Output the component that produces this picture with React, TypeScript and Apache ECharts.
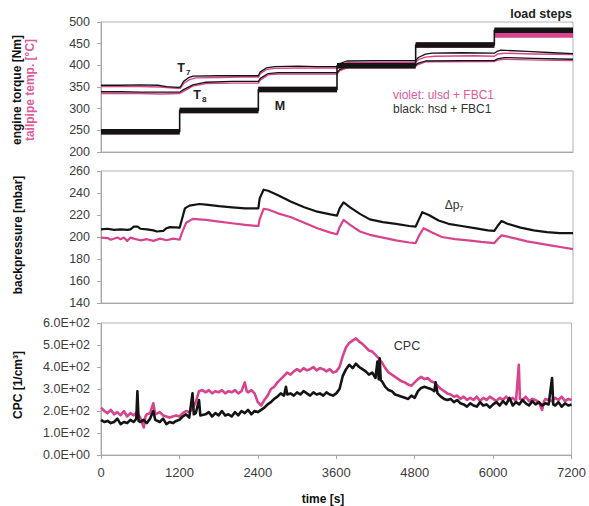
import React, { useEffect, useRef } from "react";
import * as echarts from "echarts";

type P = [number, number];

const PINK = "#d8438d";
const PINK_TEXT = "#de5a9c";
const BLACK = "#141414";
const AXIS_GRAY = "#a8a8a8";
const LABEL = "#3c3c3c";
const FONT = "'Liberation Sans', Arial, sans-serif";

// time axis
const TIME_MIN = 0;
const TIME_MAX = 7200;
const TIME_STEP = 1200;

// top panel: torque M load steps (start time of each step and its level)
const stepStarts = [0, 1200, 2400, 3600, 4800, 6000];
const torqueBlackLevels = [247, 296, 344, 399, 447, 481];
const torquePinkLevels = [247, 296, 344, 399, 447, 470];

// temperatures T7, T8
const t7Black: P[] = [
  [0, 354], [300, 354], [600, 355], [870, 354], [1000, 351], [1170, 349], [1210, 350],
  [1260, 363], [1330, 371], [1400, 375], [1800, 376], [2100, 376], [2400, 376],
  [2430, 385], [2520, 394], [2650, 397], [3000, 398], [3300, 397], [3600, 397],
  [3640, 404], [3750, 410], [4200, 411], [4800, 411], [4840, 418], [4950, 426],
  [5050, 428], [5500, 429], [6000, 428], [6040, 432], [6100, 435], [6500, 432],
  [6900, 429], [7200, 427],
];
const t7Pink: P[] = [
  [0, 351], [300, 351], [600, 351], [900, 350], [1150, 347], [1210, 347],
  [1260, 358], [1350, 367], [1450, 371], [1800, 372], [2100, 373], [2400, 373],
  [2430, 381], [2520, 390], [2650, 393], [3000, 394], [3300, 394], [3600, 394],
  [3640, 401], [3750, 406], [4200, 407], [4800, 407], [4840, 413], [4950, 419],
  [5100, 421], [5700, 422], [6000, 421], [6050, 426], [6150, 428], [6600, 426],
  [7200, 425],
];
const t8Black: P[] = [
  [0, 339], [300, 339], [600, 338], [900, 338], [1200, 338], [1260, 344],
  [1400, 355], [1600, 361], [2000, 363], [2400, 363], [2430, 370], [2550, 381],
  [2700, 383], [3600, 383], [3640, 390], [3800, 400], [4800, 401], [4840, 405],
  [4950, 410], [5500, 411], [6000, 411], [6050, 415], [6150, 418], [6600, 416],
  [7200, 414],
];
const t8Pink: P[] = [
  [0, 335], [300, 335], [600, 335], [900, 334], [1200, 335], [1260, 340],
  [1400, 352], [1600, 358], [2000, 359], [2400, 359], [2430, 366], [2550, 378],
  [2700, 380], [3600, 380], [3640, 387], [3800, 397], [4800, 398], [4840, 402],
  [4950, 408], [6000, 409], [6050, 412], [6150, 414], [6700, 412], [7200, 411],
];

// middle panel: backpressure dp7
const dpBlack: P[] = [
  [0, 207], [100, 207.5], [200, 206.5], [300, 207], [400, 206.5], [450, 207],
  [500, 209.5], [560, 209.5], [600, 207.5], [700, 207], [800, 206], [850, 205],
  [950, 205.5], [1000, 208], [1050, 209], [1200, 208.5], [1230, 215], [1280, 226],
  [1350, 228.5], [1500, 230], [1600, 229.5], [1800, 228], [2000, 227], [2200, 226],
  [2400, 226], [2420, 235], [2480, 243], [2550, 242], [2700, 238], [2900, 232],
  [3100, 227], [3300, 223], [3500, 220.5], [3600, 219.5], [3640, 226], [3700, 231.5],
  [3800, 227], [3950, 221], [4100, 216], [4300, 213.5], [4500, 212], [4700, 210],
  [4800, 209.5], [4850, 216], [4900, 222.5], [5000, 220], [5150, 215], [5300, 212],
  [5500, 210], [5700, 208], [5900, 206], [6000, 205.5], [6050, 210], [6110, 214.5],
  [6200, 212], [6400, 208.5], [6600, 206], [6800, 204.5], [7000, 203.5], [7200, 203.5],
];
const dpPink: P[] = [
  [0, 199.5], [100, 199], [150, 197.5], [250, 199.5], [300, 198], [350, 199.5],
  [400, 196.5], [450, 199.5], [500, 198.5], [600, 197], [700, 198], [800, 196.5],
  [900, 198.5], [1000, 197], [1100, 198.5], [1200, 197.5], [1230, 203], [1300, 213],
  [1400, 216.5], [1600, 215.5], [1800, 214], [2000, 212.5], [2200, 211], [2400, 210],
  [2420, 216], [2480, 225.5], [2550, 225], [2700, 221.5], [2900, 218], [3100, 213],
  [3300, 208], [3500, 204], [3600, 202.5], [3640, 209], [3700, 215.5], [3800, 211],
  [3950, 205], [4100, 202], [4300, 199.5], [4500, 197], [4700, 195], [4800, 194.5],
  [4850, 201], [4920, 208], [5050, 204], [5200, 200], [5400, 198], [5600, 197],
  [5800, 195.5], [6000, 194.5], [6050, 198], [6110, 201.5], [6300, 199], [6500, 196],
  [6700, 194], [6900, 192], [7100, 190], [7200, 189],
];

// bottom panel: CPC particle concentration
const cpcBlack: P[] = [
  [0, 160], [50, 150], [100, 155], [150, 145], [200, 150], [250, 165], [300, 140],
  [350, 150], [400, 145], [450, 160], [500, 150], [540, 165], [557, 290], [575, 155],
  [600, 150], [650, 160], [700, 145], [750, 165], [800, 200], [830, 160], [900, 150],
  [950, 165], [1000, 140], [1050, 150], [1100, 145], [1150, 155], [1200, 160],
  [1250, 175], [1300, 185], [1350, 170], [1400, 280], [1420, 185], [1450, 190],
  [1500, 250], [1520, 180], [1600, 185], [1650, 195], [1700, 175], [1750, 190],
  [1800, 180], [1850, 200], [1900, 180], [1950, 185], [2000, 175], [2050, 195],
  [2100, 180], [2150, 200], [2200, 190], [2250, 205], [2300, 185], [2350, 200],
  [2400, 195], [2450, 205], [2500, 215], [2550, 230], [2600, 240], [2650, 255],
  [2700, 265], [2750, 280], [2800, 270], [2830, 310], [2850, 275], [2900, 280],
  [2950, 270], [3000, 285], [3050, 275], [3100, 290], [3150, 280], [3200, 270],
  [3250, 285], [3300, 275], [3350, 280], [3400, 270], [3450, 285], [3500, 275],
  [3550, 270], [3600, 280], [3650, 300], [3700, 360], [3750, 390], [3800, 410],
  [3850, 395], [3900, 415], [3950, 400], [4000, 390], [4050, 380], [4100, 365],
  [4150, 375], [4200, 350], [4230, 425], [4250, 345], [4264, 440], [4280, 340],
  [4300, 335], [4350, 310], [4400, 295], [4450, 290], [4500, 275], [4550, 270],
  [4600, 265], [4650, 260], [4700, 255], [4750, 270], [4800, 260], [4850, 290],
  [4900, 305], [4950, 310], [5000, 305], [5050, 300], [5100, 290], [5120, 330],
  [5150, 280], [5200, 265], [5250, 255], [5300, 250], [5350, 255], [5400, 240],
  [5450, 250], [5500, 235], [5550, 230], [5600, 220], [5650, 235], [5700, 225],
  [5750, 220], [5800, 240], [5850, 225], [5900, 230], [5950, 215], [6000, 230],
  [6050, 240], [6100, 225], [6150, 245], [6200, 230], [6250, 260], [6300, 225],
  [6350, 240], [6400, 230], [6450, 250], [6500, 235], [6550, 225], [6600, 245],
  [6650, 230], [6700, 240], [6750, 225], [6800, 235], [6850, 230], [6902, 350],
  [6920, 230], [6950, 225], [7000, 240], [7050, 220], [7100, 235], [7150, 225],
  [7200, 230],
];
const cpcPink: P[] = [
  [0, 215], [50, 200], [100, 190], [150, 205], [200, 185], [250, 195], [300, 180],
  [350, 200], [400, 175], [450, 190], [500, 180], [550, 195], [600, 170], [655, 125],
  [680, 175], [700, 185], [750, 190], [800, 235], [830, 185], [900, 195], [950, 180],
  [1000, 175], [1050, 170], [1100, 175], [1150, 180], [1200, 175], [1250, 190],
  [1300, 200], [1350, 195], [1400, 210], [1450, 240], [1500, 290], [1550, 295],
  [1600, 285], [1650, 295], [1700, 280], [1750, 290], [1800, 285], [1850, 295],
  [1900, 280], [1950, 290], [2000, 285], [2050, 295], [2100, 280], [2150, 290],
  [2200, 330], [2230, 290], [2250, 285], [2300, 295], [2350, 280], [2400, 240],
  [2450, 225], [2500, 250], [2550, 270], [2600, 300], [2650, 310], [2700, 330],
  [2750, 345], [2800, 360], [2850, 375], [2900, 365], [2950, 380], [3000, 390],
  [3050, 380], [3100, 395], [3150, 385], [3200, 390], [3250, 400], [3300, 385],
  [3350, 395], [3400, 390], [3450, 380], [3500, 390], [3550, 375], [3600, 380],
  [3650, 400], [3700, 450], [3750, 490], [3800, 510], [3850, 520], [3900, 530],
  [3950, 515], [4000, 505], [4050, 490], [4100, 475], [4150, 470], [4200, 455],
  [4250, 440], [4300, 420], [4350, 395], [4400, 375], [4450, 365], [4500, 355],
  [4550, 345], [4600, 335], [4650, 330], [4700, 320], [4750, 315], [4800, 330],
  [4850, 345], [4900, 355], [4950, 345], [5000, 350], [5050, 335], [5100, 330],
  [5150, 315], [5200, 300], [5250, 290], [5300, 280], [5350, 275], [5400, 265],
  [5450, 270], [5500, 255], [5550, 265], [5600, 250], [5650, 260], [5700, 250],
  [5750, 265], [5800, 245], [5850, 260], [5900, 250], [5950, 265], [6000, 255],
  [6050, 245], [6100, 260], [6150, 250], [6200, 265], [6250, 250], [6300, 260],
  [6350, 245], [6393, 410], [6410, 255], [6450, 250], [6500, 265], [6550, 245],
  [6600, 255], [6650, 250], [6700, 240], [6750, 205], [6780, 245], [6800, 255],
  [6850, 250], [6900, 245], [6950, 260], [7000, 250], [7050, 265], [7100, 245],
  [7150, 255], [7200, 250],
];

const cpcTickLabel = (v: number) =>
  v === 0 ? "0.0E+00" : (v / 100).toFixed(1) + "E+02";

// build step paths from the load-step levels
const stepEnd = (i: number) => (i + 1 < stepStarts.length ? stepStarts[i + 1] : TIME_MAX);
const stepPath = (levels: number[]): P[] => {
  const out: P[] = [];
  levels.forEach((lv, i) => {
    out.push([stepStarts[i], lv], [stepEnd(i), lv]);
  });
  return out;
};
const stepBands = (levels: number[]): any[] => {
  const out: any[] = [];
  levels.forEach((lv, i) => {
    if (i > 0) out.push([stepStarts[i], "-"]);
    out.push([stepStarts[i], lv], [stepEnd(i), lv]);
  });
  return out;
};

const grids = [
  { left: 101, right: 16, top: 22, height: 130 },
  { left: 101, right: 16, top: 171, height: 132 },
  { left: 101, right: 16, top: 323, height: 132 },
].map((g) => ({
  ...g,
  show: true,
  borderColor: "#b4b4b4",
  borderWidth: 1,
  backgroundColor: "transparent",
  containLabel: false,
}));

const xAxisBase = (idx: number, showLabels: boolean) => ({
  type: "value",
  gridIndex: idx,
  min: TIME_MIN,
  max: TIME_MAX,
  interval: TIME_STEP,
  axisLine: { show: true, onZero: false, lineStyle: { color: AXIS_GRAY, width: 1 } },
  axisTick: { show: showLabels, length: 4, lineStyle: { color: AXIS_GRAY } },
  axisLabel: {
    show: showLabels,
    margin: 11,
    fontSize: 13,
    color: LABEL,
    fontFamily: FONT,
    formatter: (v: number) => String(v),
  },
  splitLine: { show: false },
});

const yAxisBase = (idx: number, min: number, max: number, interval: number, fmt?: (v: number) => string) => ({
  type: "value",
  gridIndex: idx,
  min,
  max,
  interval,
  axisLine: { show: true, onZero: false, lineStyle: { color: AXIS_GRAY, width: 1 } },
  axisTick: { show: true, length: 4, lineStyle: { color: AXIS_GRAY } },
  axisLabel: {
    margin: 11,
    fontSize: 12.5,
    color: LABEL,
    fontFamily: FONT,
    formatter: fmt ?? ((v: number) => String(v)),
  },
  splitLine: { show: false },
});

const line = (data: any[], idx: number, color: string, width: number, z: number) => ({
  type: "line",
  xAxisIndex: idx,
  yAxisIndex: idx,
  data,
  showSymbol: false,
  symbol: "none",
  connectNulls: false,
  z,
  lineStyle: { color, width, cap: "butt", join: "round" },
  emphasis: { disabled: true },
});

const txt = (
  x: number,
  y: number,
  text: string,
  opts: { size?: number; bold?: boolean; color?: string; align?: string; rot?: boolean } = {}
) => ({
  type: "text",
  x,
  y,
  rotation: opts.rot ? Math.PI / 2 : 0,
  z: 100,
  style: {
    text,
    fill: opts.color ?? "#222",
    font: `${opts.bold ? "bold " : ""}${opts.size ?? 12}px ${FONT}`,
    align: opts.align ?? "center",
    verticalAlign: "middle",
  },
});

export default function App() {
  const ref = useRef<HTMLDivElement>(null);

  useEffect(() => {
    if (!ref.current) return;
    const chart = echarts.init(ref.current, null, { renderer: "svg" });
    const option: any = {
      animation: false,
      backgroundColor: "#ffffff",
      grid: grids,
      xAxis: [xAxisBase(0, false), xAxisBase(1, false), xAxisBase(2, true)],
      yAxis: [
        yAxisBase(0, 200, 500, 50),
        yAxisBase(1, 140, 260, 20),
        yAxisBase(2, 0, 600, 100, cpcTickLabel),
      ],
      series: [
        line(t8Pink, 0, PINK, 1.4, 2),
        line(t7Pink, 0, PINK, 1.4, 2),
        line(t8Black, 0, BLACK, 1.3, 3),
        line(t7Black, 0, BLACK, 1.3, 3),
        line(stepBands(torquePinkLevels), 0, PINK, 5.5, 4),
        line(stepPath(torqueBlackLevels), 0, BLACK, 1.6, 5),
        line(stepBands(torqueBlackLevels), 0, BLACK, 5.5, 5),
        line(dpPink, 1, PINK, 2.2, 2),
        line(dpBlack, 1, BLACK, 2.2, 3),
        line(cpcPink, 2, PINK, 2.6, 2),
        line(cpcBlack, 2, BLACK, 2.6, 3),
      ],
      graphic: [
        txt(17, 90, "engine torque [Nm]", { bold: true, rot: true, color: "#111" }),
        txt(30, 90, "tailpipe temp. [°C]", { bold: true, rot: true, color: PINK_TEXT }),
        txt(18, 235, "backpressure [mbar]", { bold: true, rot: true, color: "#111" }),
        txt(18, 385, "CPC [1/cm³]", { bold: true, rot: true, color: "#111" }),
        txt(323, 499, "time [s]", { bold: true, color: "#111" }),
        txt(572, 14, "load steps", { bold: true, size: 12.5, align: "right", color: "#222" }),
        txt(181, 68, "T", { bold: true, size: 12.5 }),
        txt(186, 72, "7", { bold: true, size: 8, align: "left" }),
        txt(197, 95, "T", { bold: true, size: 12.5 }),
        txt(202, 99, "8", { bold: true, size: 8, align: "left" }),
        txt(280, 106, "M", { bold: true, size: 12.5 }),
        txt(393, 95, "violet: ulsd + FBC1", { size: 12, align: "left", color: PINK_TEXT }),
        txt(393, 108.5, "black: hsd + FBC1", { size: 12, align: "left", color: "#333" }),
        txt(452, 205, "Δp", { size: 12, color: "#333" }),
        txt(459, 208, "7", { size: 8, align: "left", color: "#333" }),
        txt(407, 346, "CPC", { size: 12.5, color: "#333" }),
      ],
    };
    chart.setOption(option);
    return () => chart.dispose();
  }, []);

  return (
    <div
      ref={ref}
      style={{ position: "absolute", left: 0, top: 0, width: 589, height: 506, background: "#fff" }}
    />
  );
}
